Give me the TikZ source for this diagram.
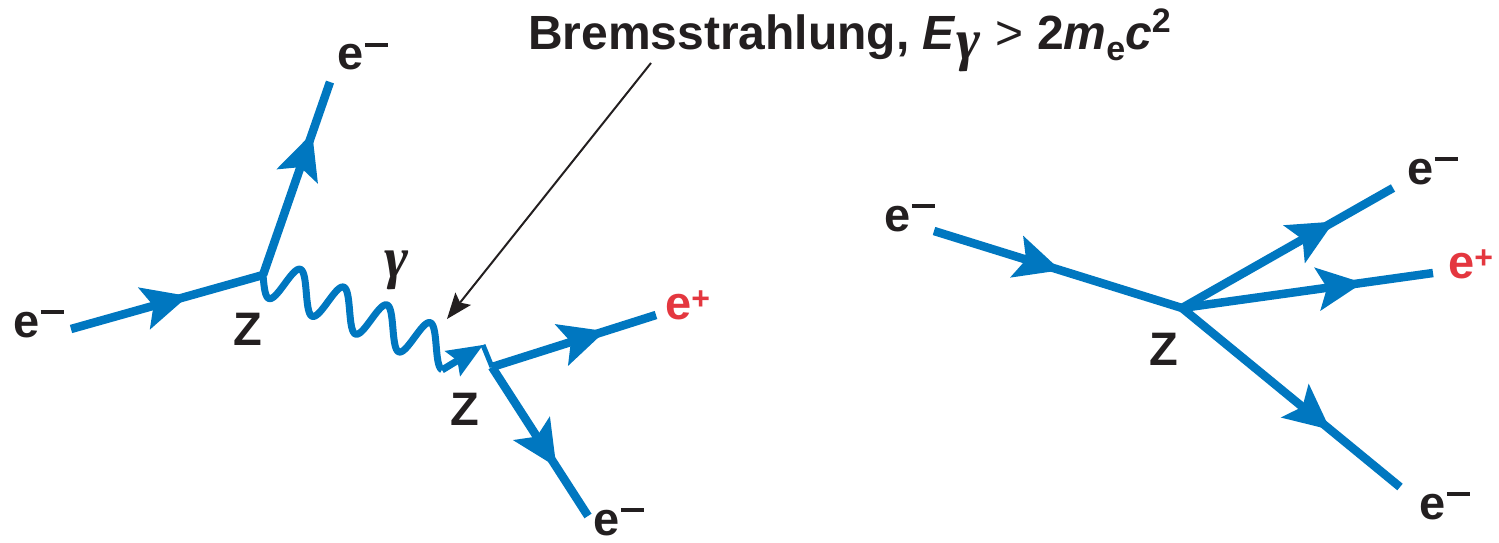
\documentclass[tikz,border=0pt]{standalone}
\usepackage{fontspec}
\setmainfont{Liberation Sans}
\newfontfamily\gammafont{Liberation Serif}
\usetikzlibrary{arrows.meta}
\usetikzlibrary{decorations.markings}
\definecolor{feynblue}{HTML}{0077C0}
\definecolor{posred}{HTML}{E4373F}
\definecolor{ink}{HTML}{231F20}
\newcommand{\elec}{e\kern0.03em\rule[0.48em]{0.5em}{0.085em}}
\newcommand{\posi}{e\raisebox{0.2em}{\fontsize{32}{32}\selectfont +}}
\newcommand{\photsym}{{\gammafont\fontsize{58}{58}\selectfont\bfseries\itshape γ}}

\begin{document}
\begin{tikzpicture}[
    x=1pt, y=-1pt,
    fermion/.style={draw=feynblue, line width=8.5pt},
    arrow at/.style={postaction={decorate}, decoration={markings,
        mark=at position #1 with {\arrow{Stealth[length=46pt,width=44pt,inset=10pt,line width=0pt]}}}},
    photon/.style={draw=feynblue, line width=7pt, line join=round},
    pointer/.style={draw=ink, line width=2pt, -{Stealth[length=26pt,width=20pt,inset=5pt,line width=0pt]}},
    particle/.style={inner sep=0pt, anchor=base west, text=ink, font=\fontsize{47}{47}\selectfont\bfseries},
    title/.style={inner sep=0pt, anchor=base west, text=ink, font=\fontsize{48}{48}\selectfont\bfseries}
]
    \useasboundingbox (0,0) rectangle (1499,543);

    % Pair production after bremsstrahlung
    \coordinate (v1) at (263,275);
    \coordinate (v2) at (492,367);
    \coordinate (ein) at (71,329);
    \coordinate (eup) at (330,82);
    \coordinate (pout) at (656,315);
    \coordinate (edown) at (588,516);
    \coordinate (gend) at (442,370);
    \coordinate (gtip) at (483,345);

    \draw[fermion, arrow at=0.61] (ein) -- (v1);
    \draw[fermion, arrow at=0.735] (v1) -- (eup);
    \draw[photon, shift={(v1)}] plot[domain=0:1530, samples=241, variable=\s]
        ({0.12028*\s-5*sin(\s)}, {0.049444*\s+19*sin(\s)});
    \draw[photon, -{Stealth[length=36pt,width=30pt,inset=6pt,line width=0pt]}] (gend) -- (gtip);
    \draw[photon, line width=5pt] (gtip) -- (v2);
    \draw[fermion, arrow at=0.69] (v2) -- (pout);
    \draw[fermion, arrow at=0.67] (v2) -- (edown);

    \node[particle] (ein-l) at (13,337) {\elec};
    \node[particle] (eup-l) at (337,70) {\elec};
    \node[particle] (z1-l) at (233,345) {Z};
    \node[particle] (g-l) at (384,277) {\photsym};
    \node[particle] (z2-l) at (450,425) {Z};
    \node[particle, text=posred] (pout-l) at (665,319) {\posi};
    \node[particle] (edown-l) at (593,535) {\elec};

    % Direct pair production (trident)
    \coordinate (v3) at (1182,308);
    \coordinate (rin) at (934,231);
    \coordinate (rup) at (1393,188);
    \coordinate (rpos) at (1433,273);
    \coordinate (rdown) at (1400,487);

    \draw[fermion, arrow at=0.51] (rin) -- (v3);
    \draw[fermion, arrow at=0.72] (v3) -- (rup);
    \draw[fermion, arrow at=0.72] (v3) -- (rpos);
    \draw[fermion, arrow at=0.68] (v3) -- (rdown);

    \node[particle] (rin-l) at (884,231) {\elec};
    \node[particle] (rup-l) at (1407,184) {\elec};
    \node[particle, text=posred] (rpos-l) at (1448,278) {\posi};
    \node[particle] (rdown-l) at (1419,519) {\elec};
    \node[particle] (z3-l) at (1149,365) {Z};

    % Label and pointer
    \node[title] (brems) at (528,49) {Bremsstrahlung,
        \textit{E}\raisebox{-10pt}{\photsym}\kern2pt{} {\mdseries >}
        2\textit{m}\raisebox{-12pt}{\fontsize{34}{34}\selectfont e}\textit{c}\raisebox{17pt}{\fontsize{34}{34}\selectfont 2}};
    \coordinate (ptail) at (651,63);
    \coordinate (phead) at (447,319);
    \draw[pointer] (ptail) -- (phead);
\end{tikzpicture}
\end{document}
